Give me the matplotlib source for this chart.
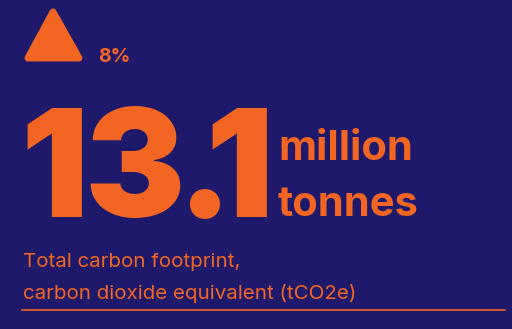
import matplotlib
matplotlib.use('Agg')
import matplotlib.pyplot as plt
from matplotlib.patches import Polygon

# figures shown on the card
change_pct = 8
total_value = 13.1
unit_lines = ['million', 'tonnes']
caption_lines = ['Total carbon footprint,', 'carbon dioxide equivalent (tCO2e)']

bg = '#1f196b'
orange = '#f26522'

fig = plt.figure(figsize=(5.12, 3.29), dpi=100, facecolor=bg)
ax = fig.add_axes([0, 0, 1, 1])
ax.set_facecolor(bg)
ax.set_xlim(0, 512)
ax.set_ylim(329, 0)
ax.axis('off')

# up arrow (rounded triangle)
tri = Polygon([(28, 58), (53, 12), (79, 58)], closed=True, facecolor=orange,
              edgecolor=orange, linewidth=5, joinstyle='round')
ax.add_patch(tri)
ax.text(98, 62, f'{change_pct}%', color=orange, fontsize=14, fontweight='bold',
        family='Inter', va='baseline', ha='left')

# big number, glyph by glyph so the spacing is tight
big = f'{total_value}'
pens = [20, 84, 176, 205]
for ch, x in zip(big, pens):
    ax.text(x, 217, ch, color=orange, fontsize=108, fontweight=900,
            family='Inter', va='baseline', ha='left')

ax.text(278, 160, unit_lines[0], color=orange, fontsize=30, fontweight='bold',
        family='Inter', va='baseline', ha='left')
ax.text(278, 216, unit_lines[1], color=orange, fontsize=30, fontweight='bold',
        family='Inter', va='baseline', ha='left')

# caption and rule
ax.text(23, 267, caption_lines[0], color=orange, fontsize=14.8,
        family='Inter', fontweight='normal', va='baseline', ha='left')
ax.text(23, 299, caption_lines[1], color=orange, fontsize=14.8,
        family='Inter', fontweight='normal', va='baseline', ha='left')
ax.plot([22, 505], [310, 310], color=orange, linewidth=1.2)

fig.savefig('out.png', dpi=100, facecolor=bg)
